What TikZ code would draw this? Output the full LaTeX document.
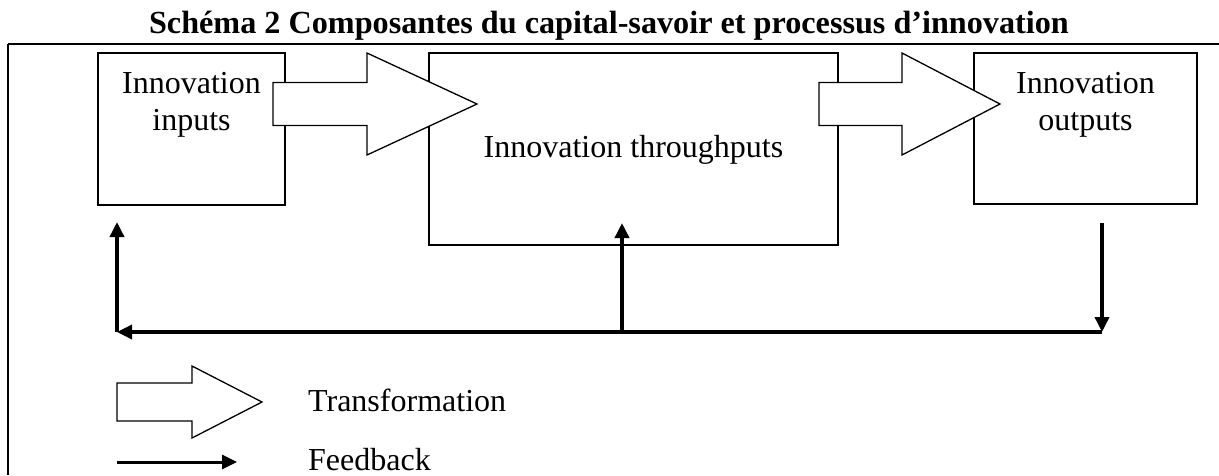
\documentclass[tikz,border=0pt]{standalone}
\usepackage{fontspec}
\setmainfont{Liberation Serif}
\usetikzlibrary{arrows.meta}
\newcommand\fatarrow[7]{% name, x0, xb, xt, yc, half shaft, half head
  \draw[fatline] (#2,#5-#6) -- (#3,#5-#6) -- (#3,#5-#7) -- (#4,#5) -- (#3,#5+#7) -- (#3,#5+#6) -- (#2,#5+#6) -- cycle;
  \coordinate (#1) at (#4,#5);}
\tikzset{
  box/.style={draw, line width=1.3pt, inner sep=0pt},
  txt/.style={anchor=base, inner sep=0pt, font=\fontsize{32}{38}\selectfont},
  fatline/.style={draw, fill=white, line width=1.3pt, line join=miter},
  fb/.style={line width=3.5pt, -{Triangle[length=15pt,width=14pt]}},
  lbl/.style={anchor=base west, inner sep=0pt, font=\fontsize{32}{38}\selectfont}
}
\begin{document}
\begin{tikzpicture}[x=1pt,y=-1pt]
\useasboundingbox (0,0) rectangle (1219,475);
% title
\node[anchor=base, inner sep=0pt, font=\fontsize{32.2}{38}\selectfont\bfseries] (title) at (609,33) {Schéma 2 Composantes du capital-savoir et processus d’innovation};
% frame
\draw[line width=2pt] (8,44) -- (1219,44);
\draw[line width=1.5pt] (8,44) -- (8,475);
% boxes
\node[box, minimum width=187pt, minimum height=152pt] (inputs) at (191.5,129) {};
\node[box, minimum width=409pt, minimum height=192pt] (through) at (633.5,149) {};
\node[box, minimum width=223pt, minimum height=151pt] (outputs) at (1085.5,128.5) {};
\node[txt] (tin1) at (191.5,93) {Innovation};
\node[txt] (tin2) at (191.5,130) {inputs};
\node[txt] (tth) at (633.5,157) {Innovation throughputs};
\node[txt] (tout1) at (1085.5,93) {Innovation};
\node[txt] (tout2) at (1085.5,130) {outputs};
% transformation arrows
\fatarrow{a1}{273}{367}{477}{104}{21.5}{51}
\fatarrow{a2}{819}{902}{1000}{104}{21.5}{51}
% feedback
\coordinate (rtop) at (1102,223);
\coordinate (rbot) at (1102,332);
\coordinate (lbot) at (117,332);
\coordinate (ltop) at (117,222);
\coordinate (mbot) at (622,332);
\coordinate (mtop) at (622,223);
\draw[fb] (rtop) -- (rbot);
\draw[fb] (rbot) -- (lbot);
\draw[fb] (lbot) -- (ltop);
\draw[fb] (mbot) -- (mtop);
% legend
\fatarrow{a3}{117}{192}{262}{402}{19}{36}
\node[lbl] (ltr) at (308,411) {Transformation};
\coordinate (fs) at (117,462);
\coordinate (fe) at (237,462);
\draw[fb, line width=3pt] (fs) -- (fe);
\node[lbl] (lfb) at (308,470) {Feedback};
\end{tikzpicture}
\end{document}
